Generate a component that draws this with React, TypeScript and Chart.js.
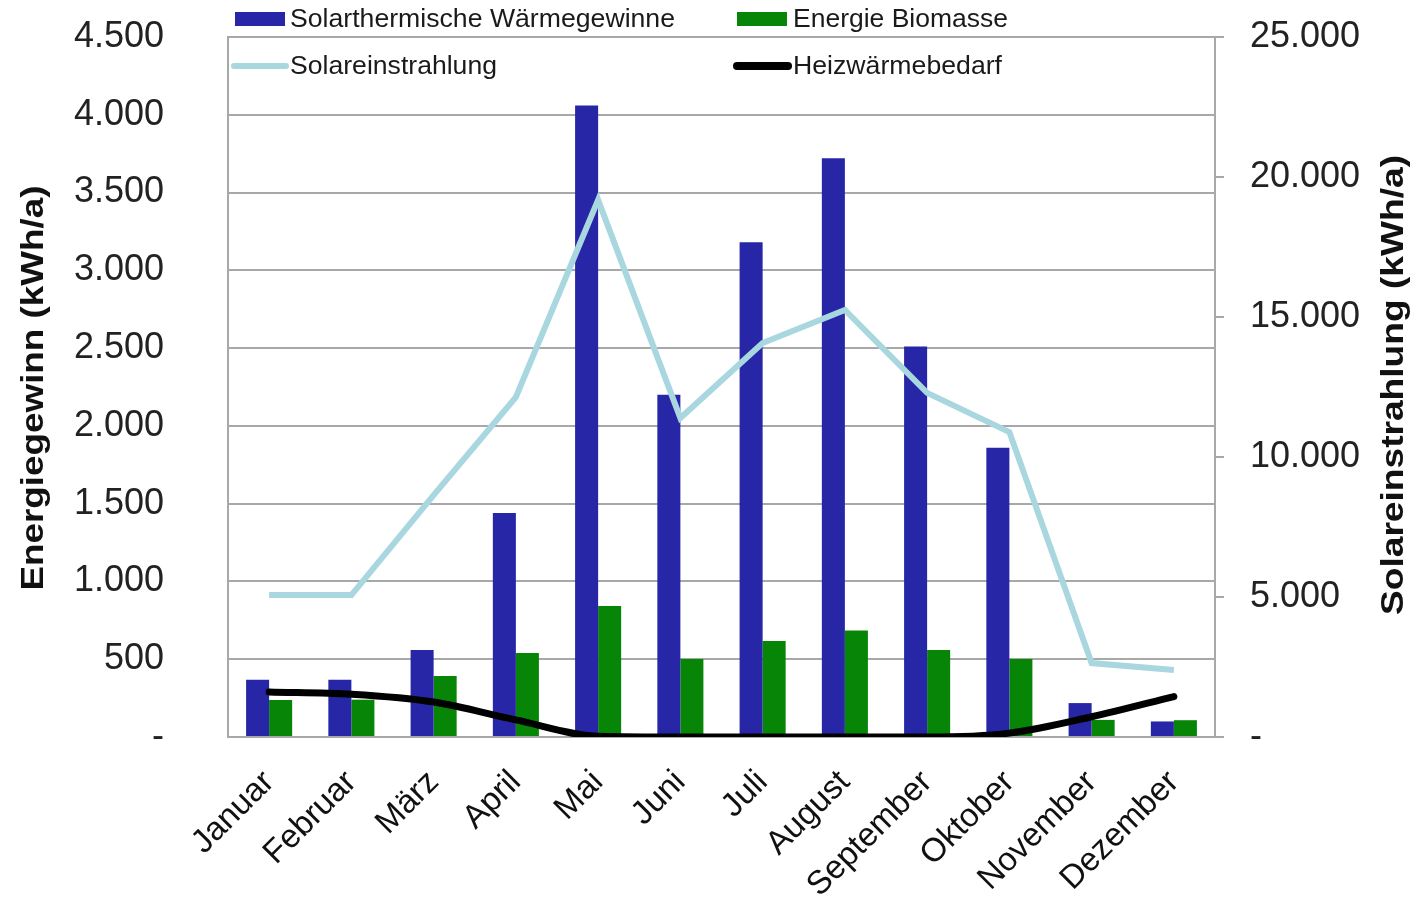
import React, { useEffect, useRef } from "react";
import { Chart, registerables } from "chart.js";

Chart.register(...registerables);

const months = ["Januar", "Februar", "März", "April", "Mai", "Juni", "Juli", "August", "September", "Oktober", "November", "Dezember"];
const solarthermie = [368, 368, 560, 1440, 4060, 2200, 3180, 3720, 2510, 1860, 218, 100];
const biomasse = [238, 240, 392, 540, 842, 501, 617, 685, 559, 501, 110, 108];
const einstrahlung = [5070, 5070, 8640, 12140, 19180, 11390, 14070, 15250, 12290, 10890, 2640, 2390];
const heizwaerme = [290, 275, 225, 110, 5, 0, 0, 0, 0, 25, 130, 260];

const legendLabels = ["Solarthermische Wärmegewinne", "Energie Biomasse", "Solareinstrahlung", "Heizwärmebedarf"];
const leftTitle = "Energiegewinn (kWh/a)";
const rightTitle = "Solareinstrahlung (kWh/a)";

const FONT = "'Liberation Sans', Arial, Helvetica, sans-serif";
const BLUE = "#2626A6";
const GREEN = "#078507";
const LIGHT = "#A9D7DF";
const GRID = "#A8A8A8";

function fmt(v: number): string {
  if (v === 0) return "-";
  return String(Math.round(v)).replace(/\B(?=(\d{3})+(?!\d))/g, ".");
}

function fitText(ctx: CanvasRenderingContext2D, text: string, x: number, y: number, width: number) {
  const w = ctx.measureText(text).width;
  ctx.save();
  ctx.translate(x, y);
  ctx.scale(width / w, 1);
  ctx.fillText(text, 0, 0);
  ctx.restore();
}

const overlay = {
  id: "overlay",
  afterDraw(chart: any) {
    const ctx: CanvasRenderingContext2D = chart.ctx;
    ctx.save();
    ctx.textBaseline = "middle";
    ctx.textAlign = "left";
    ctx.font = `25px ${FONT}`;
    ctx.fillStyle = BLUE;
    ctx.fillRect(235, 12, 50, 14);
    ctx.fillStyle = GREEN;
    ctx.fillRect(737, 12, 50, 14);
    ctx.lineCap = "round";
    ctx.strokeStyle = LIGHT;
    ctx.lineWidth = 6;
    ctx.beginPath();
    ctx.moveTo(234, 66);
    ctx.lineTo(286, 66);
    ctx.stroke();
    ctx.strokeStyle = "#000";
    ctx.lineWidth = 8;
    ctx.beginPath();
    ctx.moveTo(737, 66);
    ctx.lineTo(788, 66);
    ctx.stroke();
    ctx.fillStyle = "#1a1a1a";
    fitText(ctx, legendLabels[0], 290, 20, 385);
    fitText(ctx, legendLabels[1], 793, 20, 215);
    fitText(ctx, legendLabels[2], 290, 67, 207);
    fitText(ctx, legendLabels[3], 793, 67, 209);
    ctx.font = `bold 32px ${FONT}`;
    ctx.fillStyle = "#111";
    const drawVert = (text: string, cx: number, cy: number, len: number) => {
      const w = ctx.measureText(text).width;
      ctx.save();
      ctx.translate(cx, cy);
      ctx.rotate(-Math.PI / 2);
      ctx.scale(len / w, 1);
      ctx.fillText(text, -w / 2, 0);
      ctx.restore();
    };
    drawVert(leftTitle, 34, 388, 405);
    drawVert(rightTitle, 1394, 385, 460);
    ctx.restore();
  },
};

const zeroPad = (s: any) => {
  s.paddingTop = 0;
  s.paddingBottom = 0;
  s.paddingLeft = 0;
  s.paddingRight = 0;
};

export default function App() {
  const ref = useRef<HTMLCanvasElement>(null);
  useEffect(() => {
    document.body.style.margin = "0";
    const chart = new Chart(ref.current as HTMLCanvasElement, {
      type: "bar",
      data: {
        labels: months,
        datasets: [
          {
            type: "line",
            label: legendLabels[3],
            data: heizwaerme,
            yAxisID: "y",
            borderColor: "#000",
            borderWidth: 7,
            pointRadius: 0,
            tension: 0.4,
            cubicInterpolationMode: "monotone",
            borderCapStyle: "round",
            order: 0,
          } as any,
          {
            type: "line",
            label: legendLabels[2],
            data: einstrahlung,
            yAxisID: "y1",
            borderColor: LIGHT,
            borderWidth: 6,
            pointRadius: 0,
            tension: 0,
            order: 1,
          } as any,
          {
            label: legendLabels[0],
            data: solarthermie,
            yAxisID: "y",
            backgroundColor: BLUE,
            categoryPercentage: 0.56,
            barPercentage: 1,
            order: 2,
          },
          {
            label: legendLabels[1],
            data: biomasse,
            yAxisID: "y",
            backgroundColor: GREEN,
            categoryPercentage: 0.56,
            barPercentage: 1,
            order: 2,
          },
        ],
      },
      options: {
        animation: false,
        responsive: true,
        maintainAspectRatio: false,
        layout: { padding: { top: 37, left: 0, right: 0, bottom: 0 } },
        plugins: { legend: { display: false }, tooltip: { enabled: false } },
        scales: {
          x: {
            grid: { drawOnChartArea: false, drawTicks: false },
            border: { display: true, color: GRID, width: 2 },
            ticks: {
              color: "#111",
              font: { size: 33, family: FONT },
              minRotation: 45,
              maxRotation: 45,
              padding: 26,
              autoSkip: false,
            },
            afterFit: (s: any) => {
              s.height = 179;
              zeroPad(s);
            },
          },
          y: {
            position: "left",
            min: 0,
            max: 4500,
            grid: { color: GRID, lineWidth: 2, drawTicks: false },
            border: { display: true, color: GRID, width: 2 },
            ticks: {
              stepSize: 500,
              color: "#222",
              font: { size: 36, family: FONT },
              padding: 64,
              callback: (v: any) => fmt(Number(v)),
            },
            afterFit: (s: any) => {
              s.width = 228;
              zeroPad(s);
            },
          },
          y1: {
            position: "right",
            min: 0,
            max: 25000,
            grid: { drawOnChartArea: false, drawTicks: true, tickLength: 9, color: GRID, lineWidth: 2 },
            border: { display: true, color: GRID, width: 2 },
            ticks: {
              stepSize: 5000,
              color: "#222",
              font: { size: 36, family: FONT },
              padding: 26,
              callback: (v: any) => fmt(Number(v)),
            },
            afterFit: (s: any) => {
              s.width = 1423 - 1215;
              zeroPad(s);
            },
          },
        },
      },
      plugins: [overlay],
    });
    return () => chart.destroy();
  }, []);
  return (
    <div style={{ position: "absolute", left: 0, top: 0, width: 1423, height: 916, background: "#fff" }}>
      <canvas ref={ref} />
    </div>
  );
}
